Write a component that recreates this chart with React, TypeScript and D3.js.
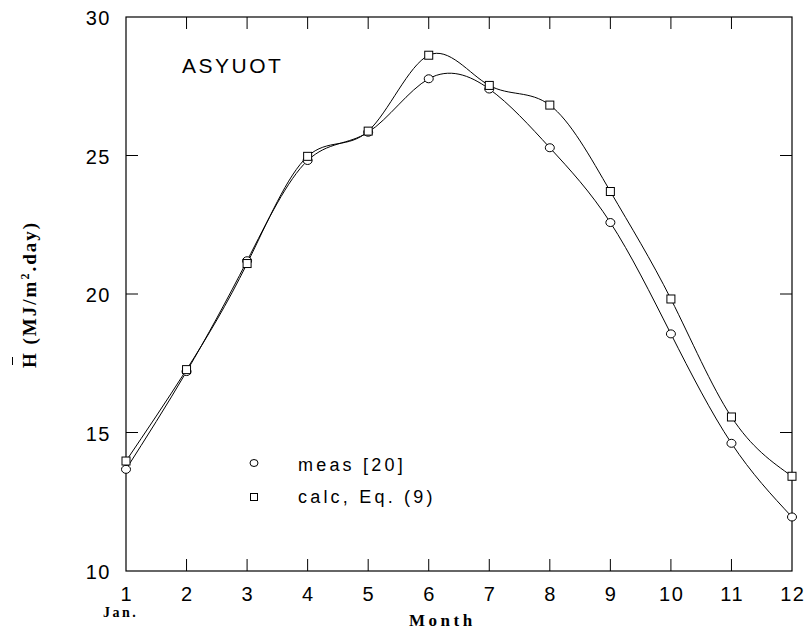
import { useEffect, useRef } from "react";
import * as d3 from "d3";

const months = [1, 2, 3, 4, 5, 6, 7, 8, 9, 10, 11, 12];
const measured = [13.67, 17.2, 21.2, 24.82, 25.84, 27.77, 27.4, 25.28, 22.58, 18.56, 14.61, 11.95];
const calculated = [13.97, 17.27, 21.1, 24.97, 25.88, 28.62, 27.53, 26.82, 23.7, 19.82, 15.56, 13.42];
const yTicks = [10, 15, 20, 25, 30];

export default function App() {
  const svgRef = useRef<SVGSVGElement>(null);

  useEffect(() => {
    if (!svgRef.current) return;
    const svg = d3.select(svgRef.current);
    svg.selectAll("*").remove();

    const width = 804;
    const height = 637;
    const margin = { top: 17, right: 12, bottom: 66, left: 126 };

    const x = d3
      .scaleLinear()
      .domain([1, 12])
      .range([margin.left, width - margin.right]);
    const y = d3
      .scaleLinear()
      .domain([10, 30])
      .range([height - margin.bottom, margin.top]);

    const sans = "Arial, 'Liberation Sans', Helvetica, sans-serif";
    const serif = "'Times New Roman', 'Liberation Serif', serif";
    const tick = 12;

    // frame
    svg
      .append("rect")
      .attr("x", x(1))
      .attr("y", y(30))
      .attr("width", x(12) - x(1))
      .attr("height", y(10) - y(30))
      .attr("fill", "none")
      .attr("stroke", "#000")
      .attr("stroke-width", 1.2);

    // inward ticks on all four sides
    const ticks = svg.append("g").attr("stroke", "#000").attr("stroke-width", 1);
    months.slice(1, -1).forEach((m) => {
      ticks.append("line").attr("x1", x(m)).attr("x2", x(m)).attr("y1", y(10)).attr("y2", y(10) - tick);
      ticks.append("line").attr("x1", x(m)).attr("x2", x(m)).attr("y1", y(30)).attr("y2", y(30) + tick);
    });
    yTicks.slice(1, -1).forEach((v) => {
      ticks.append("line").attr("x1", x(1)).attr("x2", x(1) + tick).attr("y1", y(v)).attr("y2", y(v));
      ticks.append("line").attr("x1", x(12)).attr("x2", x(12) - tick).attr("y1", y(v)).attr("y2", y(v));
    });

    // tick labels
    svg
      .append("g")
      .selectAll("text")
      .data(months)
      .join("text")
      .attr("x", (d) => x(d) + 0.75)
      .attr("y", y(10) + 30)
      .attr("text-anchor", "middle")
      .attr("font-family", sans)
      .attr("font-size", 20)
      .attr("letter-spacing", 1.5)
      .text((d) => d);

    svg
      .append("g")
      .selectAll("text")
      .data(yTicks)
      .join("text")
      .attr("x", x(1) - 15)
      .attr("y", (d) => y(d) + 8)
      .attr("text-anchor", "end")
      .attr("font-family", sans)
      .attr("font-size", 20)
      .attr("letter-spacing", 1.5)
      .text((d) => d);

    // axis titles
    svg
      .append("text")
      .attr("x", 103)
      .attr("y", 617)
      .attr("font-family", serif)
      .attr("font-weight", "bold")
      .attr("font-size", 14)
      .attr("letter-spacing", 2.5)
      .text("Jan.");

    svg
      .append("text")
      .attr("x", 409)
      .attr("y", 626)
      .attr("font-family", serif)
      .attr("font-weight", "bold")
      .attr("font-size", 17)
      .attr("letter-spacing", 3.5)
      .text("Month");

    const yl = svg
      .append("text")
      .attr("transform", "translate(36,368) rotate(-90)")
      .attr("font-family", serif)
      .attr("font-weight", "bold")
      .attr("font-size", 19)
      .attr("letter-spacing", 2);
    yl.append("tspan").text("H (MJ/m");
    yl.append("tspan").attr("font-size", 12).attr("dy", -7).text("2");
    yl.append("tspan").attr("dy", 7).text(".day)");
    // overbar over H
    svg
      .append("line")
      .attr("x1", 12.5)
      .attr("x2", 12.5)
      .attr("y1", 365)
      .attr("y2", 357)
      .attr("stroke", "#000")
      .attr("stroke-width", 1);

    // station name
    svg
      .append("text")
      .attr("x", 182)
      .attr("y", 73)
      .attr("font-family", sans)
      .attr("font-size", 21)
      .attr("letter-spacing", 2.5)
      .text("ASYUOT");

    // curves
    const line = d3
      .line<number>()
      .x((_, i) => x(months[i]))
      .y((d) => y(d))
      .curve(d3.curveNatural);

    [measured, calculated].forEach((series) => {
      svg
        .append("path")
        .attr("d", line(series))
        .attr("fill", "none")
        .attr("stroke", "#000")
        .attr("stroke-width", 1);
    });

    // markers
    svg
      .append("g")
      .selectAll("ellipse")
      .data(measured)
      .join("ellipse")
      .attr("cx", (_, i) => x(months[i]))
      .attr("cy", (d) => y(d))
      .attr("rx", 4.5)
      .attr("ry", 4)
      .attr("fill", "#fff")
      .attr("stroke", "#000")
      .attr("stroke-width", 1);

    svg
      .append("g")
      .selectAll("rect")
      .data(calculated)
      .join("rect")
      .attr("x", (_, i) => x(months[i]) - 4)
      .attr("y", (d) => y(d) - 4)
      .attr("width", 8)
      .attr("height", 8)
      .attr("fill", "#fff")
      .attr("stroke", "#000")
      .attr("stroke-width", 1);

    // legend
    const legend = svg.append("g");
    legend
      .append("ellipse")
      .attr("cx", 254)
      .attr("cy", 463)
      .attr("rx", 4)
      .attr("ry", 3.5)
      .attr("fill", "#fff")
      .attr("stroke", "#000");
    legend
      .append("rect")
      .attr("x", 250.5)
      .attr("y", 493.5)
      .attr("width", 7)
      .attr("height", 7)
      .attr("fill", "#fff")
      .attr("stroke", "#000");
    legend
      .append("text")
      .attr("x", 298)
      .attr("y", 471)
      .attr("font-family", sans)
      .attr("font-size", 18)
      .attr("letter-spacing", 3.2)
      .text("meas [20]");
    legend
      .append("text")
      .attr("x", 298)
      .attr("y", 503)
      .attr("font-family", sans)
      .attr("font-size", 18)
      .attr("letter-spacing", 3.2)
      .text("calc, Eq. (9)");
  }, []);

  return (
    <svg
      ref={svgRef}
      width={804}
      height={637}
      style={{ position: "absolute", left: 0, top: 0, background: "#fff" }}
    />
  );
}
